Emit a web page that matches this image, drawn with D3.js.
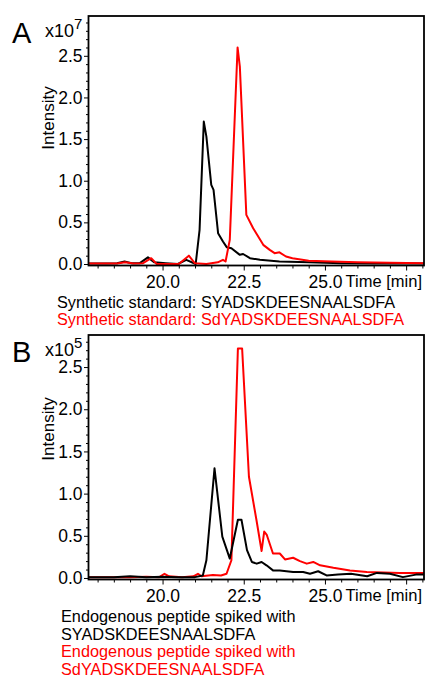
<!DOCTYPE html>
<html lang="en">
<head>
<meta charset="utf-8">
<script src="https://d3js.org/d3.v7.min.js"></script>
<title>Extracted ion chromatograms</title>
<style>
    body { margin: 0; background: #fff; }
    svg text { font-family: "Liberation Sans", Arial, sans-serif; }
    .axis path, .axis line { stroke: #000; }
    .axis text { font-size: 17.5px; fill: #000; }
</style>
</head>
<body>
<svg id="chart" width="425" height="678"></svg>
<script>
    // panel A: synthetic standards (x10^7)
    const aBlackTime = [17.72, 18.3, 18.6, 18.83, 19.05, 19.3, 19.55, 19.75, 20.1, 20.47, 20.73, 21.02, 21.14, 21.27, 21.35, 21.5, 21.57, 21.71, 21.86, 21.98, 22.12, 22.38, 22.48, 22.69, 23.0, 23.6, 24.5, 25.5, 26.5, 28.05];
    const aBlackValue = [0.005, 0.005, 0.01, 0.03, 0.01, 0.01, 0.08, 0.02, 0.01, 0.0, 0.05, 0.0, 0.41, 1.71, 1.53, 0.95, 0.89, 0.37, 0.27, 0.2, 0.19, 0.11, 0.12, 0.07, 0.05, 0.03, 0.02, 0.01, 0.005, 0.005];
    const aRedTime = [17.72, 18.6, 18.85, 19.1, 19.4, 19.65, 19.82, 20.5, 20.81, 20.99, 21.35, 21.7, 21.86, 21.94, 22.07, 22.31, 22.38, 22.58, 22.79, 23.1, 23.3, 23.45, 23.6, 23.8, 24.0, 24.5, 25.2, 26.0, 27.0, 28.05];
    const aRedValue = [0.005, 0.005, 0.02, 0.005, 0.01, 0.07, 0.0, 0.0, 0.1, 0.01, 0.0, 0.02, 0.05, 0.03, 0.29, 2.6, 2.37, 0.59, 0.43, 0.23, 0.17, 0.13, 0.14, 0.09, 0.07, 0.04, 0.03, 0.02, 0.015, 0.01];

    // panel B: endogenous peptide spiked (x10^5)
    const bBlackTime = [17.72, 18.5, 19.0, 19.5, 20.0, 20.5, 21.0, 21.24, 21.35, 21.6, 21.84, 22.07, 22.32, 22.43, 22.6, 22.75, 22.9, 23.05, 23.2, 23.4, 23.61, 24.02, 24.33, 24.54, 24.79, 25.05, 25.4, 25.8, 26.3, 26.6, 27.0, 27.4, 27.8, 28.05];
    const bBlackValue = [0.01, 0.01, 0.02, 0.01, 0.015, 0.01, 0.01, 0.03, 0.21, 1.3, 0.49, 0.23, 0.69, 0.69, 0.33, 0.19, 0.17, 0.19, 0.15, 0.09, 0.09, 0.07, 0.07, 0.05, 0.08, 0.03, 0.04, 0.05, 0.02, 0.06, 0.05, 0.01, 0.04, 0.04];
    const bRedTime = [17.72, 19.0, 19.5, 19.9, 20.06, 20.2, 20.6, 20.95, 21.09, 21.2, 21.55, 21.8, 21.97, 22.12, 22.32, 22.45, 22.66, 22.89, 23.05, 23.13, 23.21, 23.4, 23.61, 23.77, 24.02, 24.23, 24.44, 24.64, 24.85, 25.26, 25.77, 26.29, 27.3, 28.05];
    const bRedValue = [0.01, 0.01, 0.015, 0.01, 0.05, 0.02, 0.01, 0.02, 0.05, 0.02, 0.035, 0.03, 0.05, 0.21, 2.72, 2.72, 1.2, 0.69, 0.32, 0.55, 0.51, 0.29, 0.29, 0.22, 0.24, 0.2, 0.17, 0.19, 0.15, 0.12, 0.09, 0.07, 0.06, 0.06];

    const xMajorTicks = [20, 22.5, 25, 27.5];
    const yMajorTicks = [0, 0.5, 1.0, 1.5, 2.0, 2.5];

    const svg = d3.select("#chart");

    function drawPanel(opt) {
        const g = svg.append("g");
        const x = d3.scaleLinear().domain([17.72, 28.05]).range([opt.left, opt.right]);
        const y = d3.scaleLinear().domain(opt.yDomain).range([opt.bottom, opt.top]);

        const clipId = "clip-" + opt.letter;
        g.append("clipPath").attr("id", clipId)
            .append("rect")
            .attr("x", opt.left).attr("y", opt.top)
            .attr("width", opt.right - opt.left).attr("height", opt.bottom - opt.top);

        const line = d3.line()
            .x(d => x(d[0]))
            .y(d => y(d[1]));

        const series = [
            { t: opt.blackTime, v: opt.blackValue, color: "#000" },
            { t: opt.redTime, v: opt.redValue, color: "#ff0000" }
        ];
        const order = opt.redFirst ? [series[1], series[0]] : series;
        order.forEach(s => {
            g.append("path")
                .datum(s.t.map((t, i) => [t, s.v[i]]))
                .attr("clip-path", `url(#${clipId})`)
                .attr("d", line)
                .attr("fill", "none")
                .attr("stroke", s.color)
                .attr("stroke-width", 2)
                .attr("stroke-linejoin", "round");
        });

        // minor ticks
        const yMinor = d3.range(0, opt.yDomain[1], 0.1).filter(v => Math.abs(v * 2 - Math.round(v * 2)) > 0.01);
        g.append("g").attr("class", "axis")
            .attr("transform", `translate(${opt.left},0)`)
            .call(d3.axisLeft(y).tickValues(yMinor).tickSize(2.5).tickFormat(""))
            .call(a => a.select(".domain").remove());
        const xMinor = d3.range(18, 28.01, 0.5).filter(v => !xMajorTicks.includes(v));
        g.append("g").attr("class", "axis")
            .attr("transform", `translate(0,${opt.bottom})`)
            .call(d3.axisBottom(x).tickValues(xMinor).tickSize(3).tickFormat(""))
            .call(a => a.select(".domain").remove());

        // major ticks
        g.append("g").attr("class", "axis")
            .attr("transform", `translate(${opt.left},0)`)
            .call(d3.axisLeft(y).tickValues(yMajorTicks).tickSize(4.5).tickPadding(1.5).tickFormat(d3.format(".1f")))
            .call(a => a.select(".domain").remove());
        g.append("g").attr("class", "axis")
            .attr("transform", `translate(0,${opt.bottom})`)
            .call(d3.axisBottom(x).tickValues(xMajorTicks).tickSize(5).tickPadding(5)
                .tickFormat(d => d === 27.5 ? "" : d3.format(".1f")(d)))
            .call(a => a.select(".domain").remove());

        // frame
        g.append("rect")
            .attr("x", opt.left).attr("y", opt.top)
            .attr("width", opt.right - opt.left).attr("height", opt.bottom - opt.top)
            .attr("fill", "none").attr("stroke", "#000").attr("stroke-width", 1.8);

        g.append("text")
            .attr("x", opt.right - 2).attr("y", opt.bottom + 21.5)
            .attr("text-anchor", "end")
            .style("font-size", "16.5px")
            .text("Time [min]");

        const exp = g.append("text")
            .attr("x", 45).attr("y", opt.top + 21)
            .style("font-size", "18px");
        exp.append("tspan").text("x10");
        exp.append("tspan").attr("dy", -8).style("font-size", "15px").text(opt.exponent);

        g.append("text")
            .attr("transform", `translate(54,${opt.labelY}) rotate(-90)`)
            .attr("text-anchor", "middle")
            .style("font-size", "17px")
            .text("Intensity");

        g.append("text")
            .attr("x", 12).attr("y", opt.top + 27)
            .style("font-size", "29px")
            .text(opt.letter);

        opt.legend.forEach((l, i) => {
            g.append("text")
                .attr("x", opt.legendX).attr("y", opt.legendY + i * opt.legendStep)
                .attr("fill", l.color)
                .style("font-size", "16.3px")
                .text(l.text);
        });
    }

    drawPanel({
        letter: "A", exponent: "7",
        left: 88.5, right: 424, top: 16, bottom: 265.5,
        yDomain: [-0.018, 2.978],
        blackTime: aBlackTime, blackValue: aBlackValue,
        redTime: aRedTime, redValue: aRedValue,
        labelY: 118,
        legendX: 57, legendY: 308, legendStep: 17.3,
        legend: [
            { text: "Synthetic standard: SYADSKDEESNAALSDFA", color: "#000" },
            { text: "Synthetic standard: SdYADSKDEESNAALSDFA", color: "#ff0000" }
        ]
    });

    drawPanel({
        letter: "B", exponent: "5", redFirst: true,
        left: 88.5, right: 424, top: 335, bottom: 579.5,
        yDomain: [-0.018, 2.88],
        blackTime: bBlackTime, blackValue: bBlackValue,
        redTime: bRedTime, redValue: bRedValue,
        labelY: 429,
        legendX: 61, legendY: 622, legendStep: 17.6,
        legend: [
            { text: "Endogenous peptide spiked with", color: "#000" },
            { text: "SYADSKDEESNAALSDFA", color: "#000" },
            { text: "Endogenous peptide spiked with", color: "#ff0000" },
            { text: "SdYADSKDEESNAALSDFA", color: "#ff0000" }
        ]
    });
</script>
</body>
</html>
